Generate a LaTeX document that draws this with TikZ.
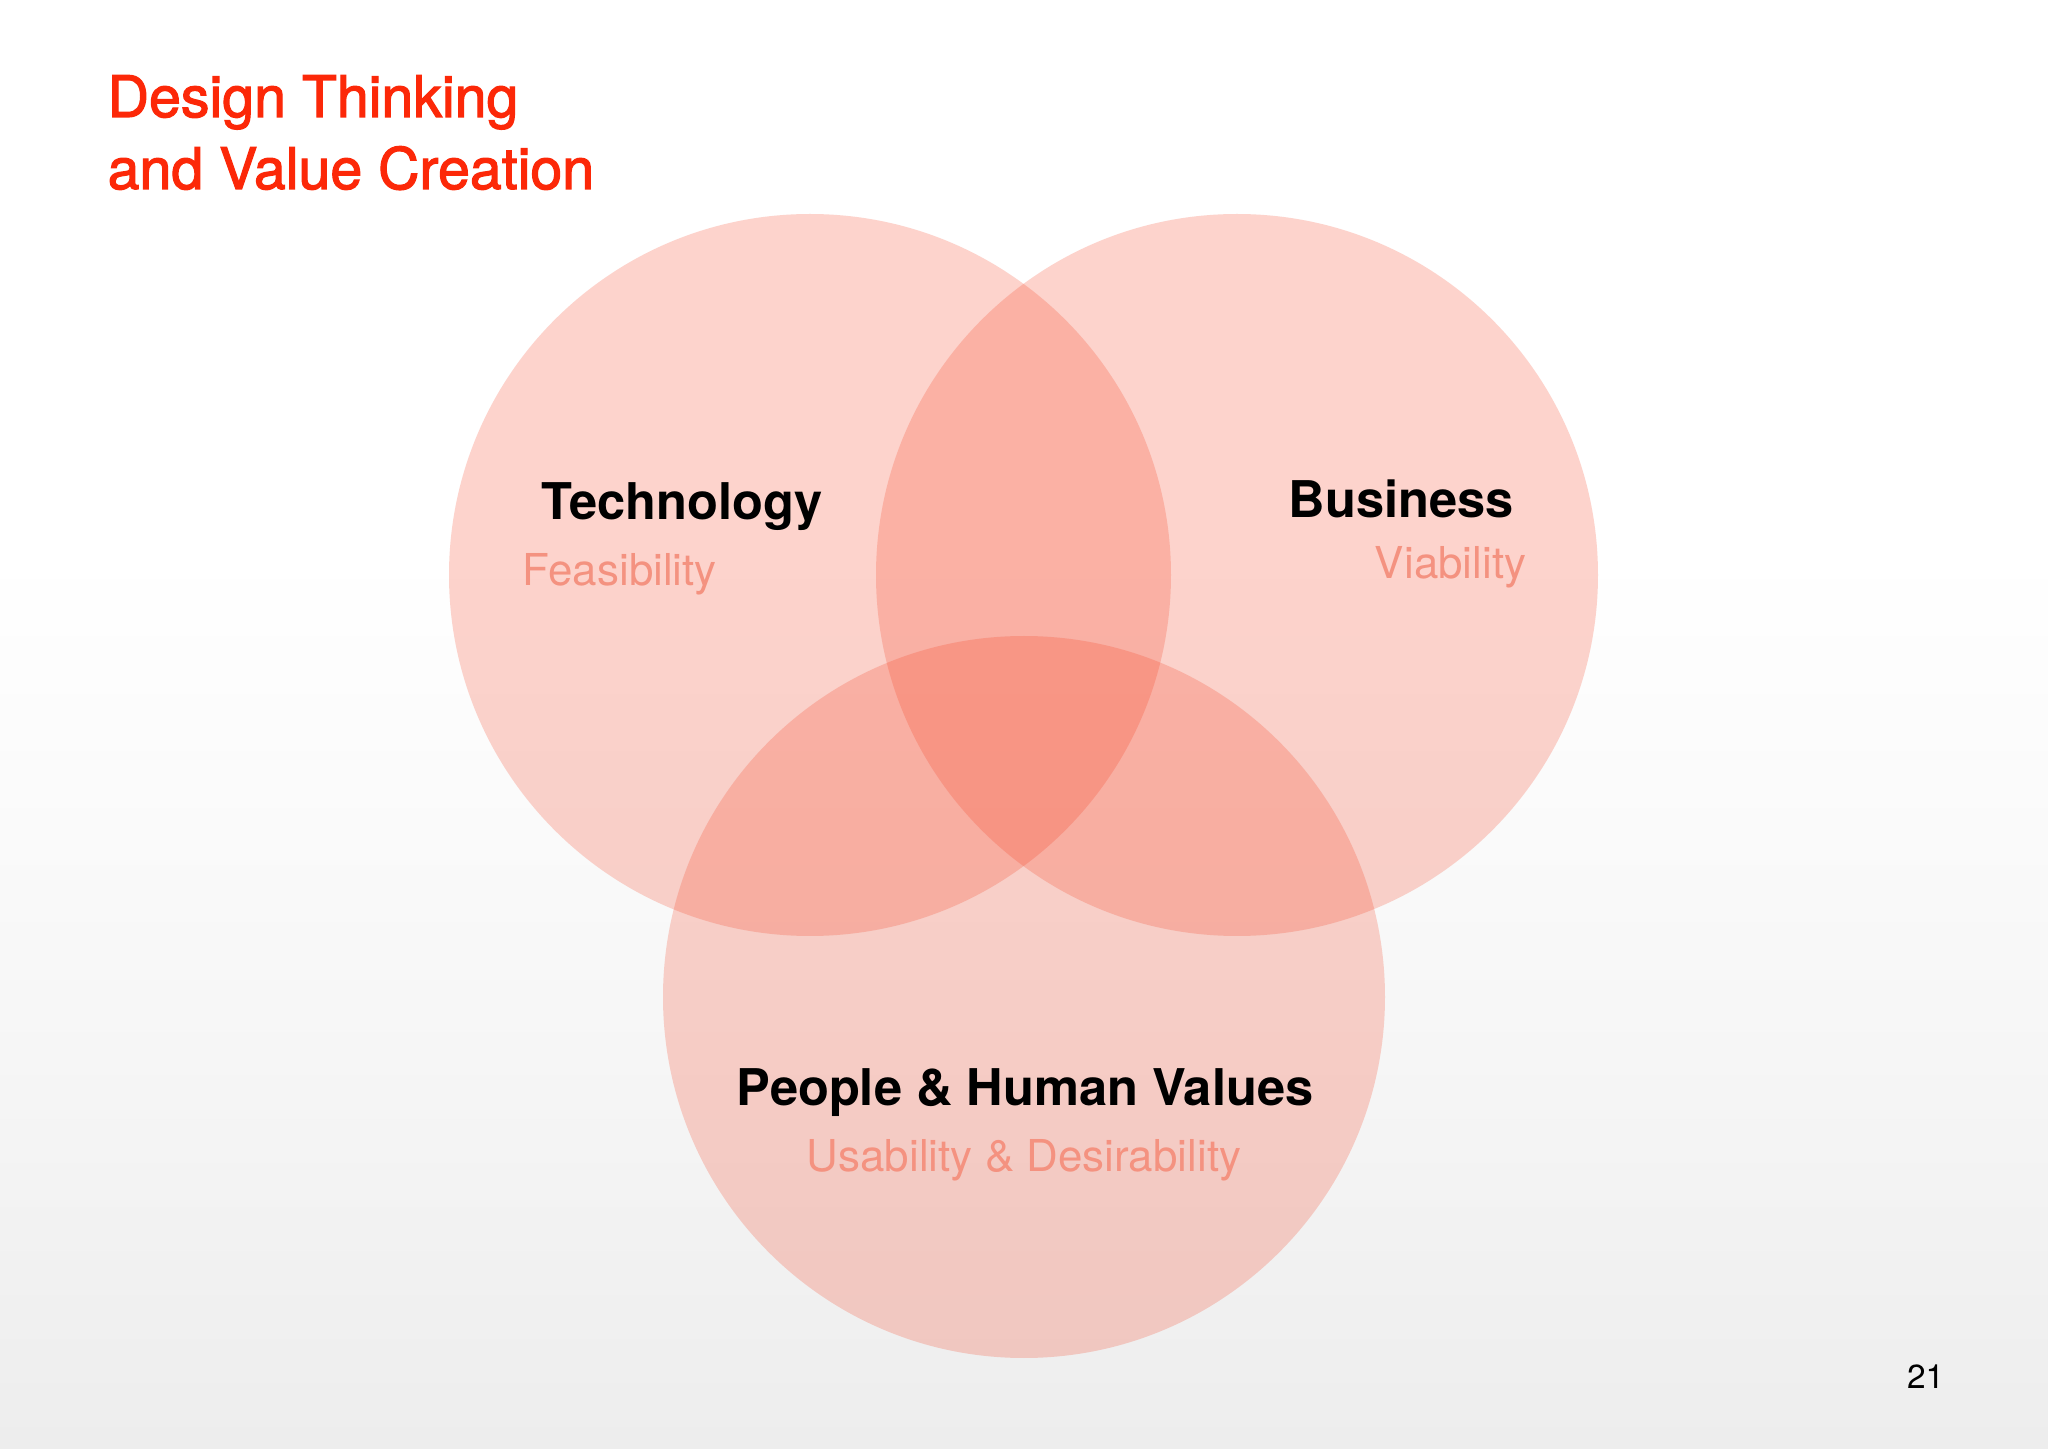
\documentclass[tikz,border=0pt]{standalone}
\usepackage{fontspec}
\setmainfont{TeX Gyre Heros}
\newfontfamily\mediumfont{TeX Gyre Heros}[FakeBold=2]
\usetikzlibrary{calc}
\definecolor{titlered}{RGB}{252,40,8}
\definecolor{vennred}{RGB}{246,58,26}
\definecolor{softred}{RGB}{244,146,128}
\definecolor{pagegray}{RGB}{237,237,237}
\pgfdeclareverticalshading{slidebg}{100bp}{color(0bp)=(pagegray); color(25bp)=(pagegray); color(40bp)=(pagegray!45!white); color(56bp)=(white); color(100bp)=(white)}
\tikzset{
	venn/.style={circle, minimum size=7.22cm, inner sep=0pt, fill=vennred, fill opacity=0.22},
	headline/.style={inner sep=0pt, text=titlered, font=\mediumfont\fontsize{16.3}{19}\selectfont},
	topic/.style={inner sep=0pt, text=black, font=\bfseries\fontsize{14.4}{16}\selectfont},
	aspect/.style={inner sep=0pt, text=softred, font=\fontsize{12.5}{15}\selectfont}
}

\begin{document}
\begin{tikzpicture}
		%%%%% START %%%%%
		
		\shade[shading=slidebg] (0, 0) rectangle (20.48, 14.48);
		\useasboundingbox (0, 0) rectangle (20.48, 14.48);
		
		\node[headline, anchor=base west] (title1) at (1.07, 13.31) {Design Thinking};
		\node[headline, anchor=base west] (title2) at (1.07, 12.59) {and Value Creation};
		
		\node[venn] (tech) at (8.10, 8.73) {};
		\node[venn] (biz) at (12.37, 8.73) {};
		\node[venn] (people) at (10.24, 4.51) {};
		
		\node[topic, anchor=base west] (techlabel) at (5.41, 9.28) {Technology};
		\node[aspect, anchor=base west] (techsub) at (5.22, 8.62) {Feasibility};
		
		\node[topic, anchor=base west] (bizlabel) at (12.88, 9.30) {Business};
		\node[aspect, anchor=base east] (bizsub) at (15.27, 8.69) {Viability};
		
		\node[topic, anchor=base] (peoplelabel) at (10.25, 3.42) {People \& Human Values};
		\node[aspect, anchor=base] (peoplesub) at (10.24, 2.76) {Usability \& Desirability};
		
		\node[inner sep=0pt, anchor=base east, font=\fontsize{9.5}{11}\selectfont] (pageno) at (19.45, 0.60) {21};
		
		%%%%% END %%%%%
	\end{tikzpicture}
\end{document}
